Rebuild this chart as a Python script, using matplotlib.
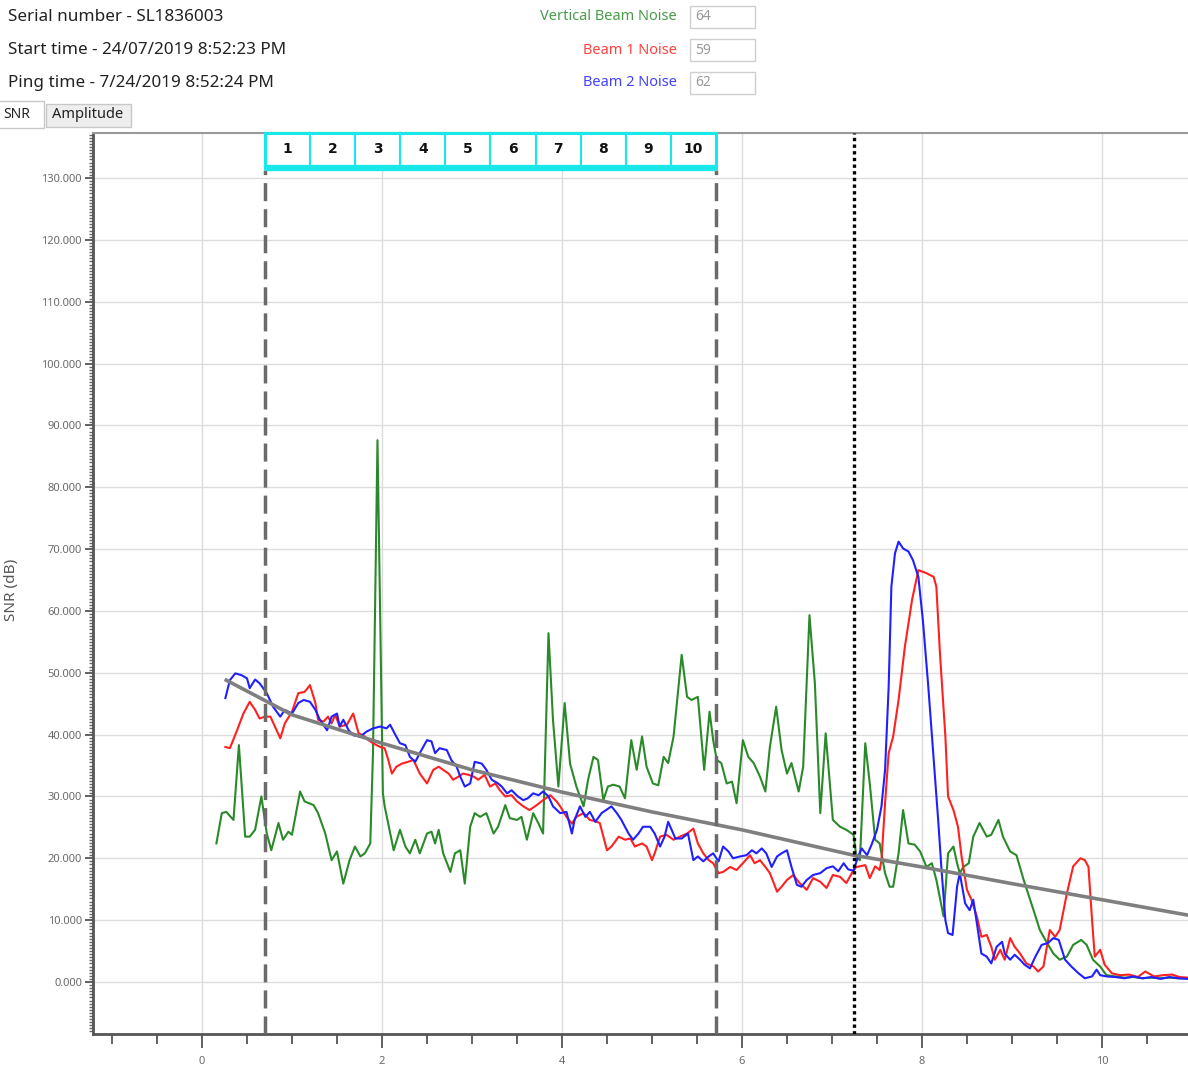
#!/usr/bin/env python

import numpy as np
import matplotlib.pyplot as plt
from matplotlib.patches import Rectangle
from matplotlib.transforms import blended_transform_factory
from matplotlib.ticker import MultipleLocator, FormatStrFormatter

plt.rcParams['font.family'] = ['Noto Sans', 'DejaVu Sans']

## header info
serialText = "Serial number - SL1836003"
startText = "Start time - 24/07/2019 8:52:23 PM"
pingText = "Ping time - 7/24/2019 8:52:24 PM"
noiseLabels = ["Vertical Beam Noise", "Beam 1 Noise", "Beam 2 Noise"]
noiseValues = ["64", "59", "62"]
tabLabels = ["SNR", "Amplitude"]
yLabel = "SNR (dB)"

## cells and markers
cellNames = ["1", "2", "3", "4", "5", "6", "7", "8", "9", "10"]
cellStart = 0.70
cellEnd = 5.71
bottomMark = 7.24

## trend curve
trendX = [0.27, 1.0, 2.0, 3.0, 4.0, 5.0, 6.0, 7.24, 8.0, 9.0, 10.0, 10.96]
trendY = [48.8, 43.2, 38.6, 34.3, 30.7, 27.5, 24.6, 20.5, 18.6, 15.9, 13.3, 10.8]

## vertical beam (green)
vertX = [0.16, 0.22, 0.27, 0.35, 0.41, 0.48, 0.53, 0.59, 0.66, 0.72, 0.77, 0.85, 0.90, 0.96, 1.00,
         1.09, 1.14, 1.24, 1.29, 1.37, 1.44, 1.50, 1.57, 1.64, 1.70, 1.76, 1.81, 1.87, 1.90, 1.95,
         2.01, 2.03, 2.13, 2.20, 2.26, 2.31, 2.37, 2.42, 2.50, 2.55, 2.59, 2.63, 2.68, 2.76, 2.81,
         2.87, 2.92, 2.98, 3.03, 3.09, 3.16, 3.24, 3.29, 3.37, 3.42, 3.50, 3.55, 3.61, 3.68, 3.74,
         3.79, 3.85, 3.90, 3.96, 4.03, 4.09, 4.16, 4.24, 4.29, 4.35, 4.40, 4.46, 4.51, 4.57, 4.64,
         4.70, 4.77, 4.83, 4.89, 4.94, 5.01, 5.07, 5.13, 5.18, 5.24, 5.33, 5.39, 5.44, 5.51, 5.58,
         5.64, 5.68, 5.72, 5.77, 5.83, 5.89, 5.94, 6.01, 6.07, 6.13, 6.20, 6.26, 6.31, 6.38, 6.44,
         6.50, 6.55, 6.63, 6.68, 6.75, 6.81, 6.87, 6.93, 7.01, 7.09, 7.16, 7.24, 7.27, 7.31, 7.37,
         7.42, 7.48, 7.53, 7.59, 7.64, 7.68, 7.74, 7.79, 7.85, 7.92, 7.98, 8.05, 8.11, 8.16, 8.24,
         8.29, 8.35, 8.39, 8.42, 8.46, 8.52, 8.57, 8.64, 8.72, 8.77, 8.85, 8.90, 8.98, 9.05, 9.13,
         9.24, 9.31, 9.39, 9.46, 9.53, 9.61, 9.68, 9.77, 9.83, 9.90, 9.98, 10.05, 10.15, 10.25,
         10.35, 10.45, 10.55, 10.65, 10.75, 10.85, 10.96]
vertY = [22.4, 27.3, 27.5, 26.2, 38.3, 23.5, 23.5, 24.6, 30.0, 24.0, 21.3, 25.7, 23.0, 24.3, 23.8,
         30.8, 29.2, 28.6, 27.3, 24.0, 19.7, 21.1, 15.9, 19.7, 21.9, 20.3, 20.8, 22.4, 37.0, 87.6,
         30.5, 28.4, 21.3, 24.6, 21.9, 20.8, 23.0, 20.8, 24.0, 24.3, 22.4, 24.6, 20.8, 17.8, 20.8,
         21.3, 15.9, 25.1, 27.3, 26.7, 27.3, 24.0, 25.1, 28.6, 26.5, 26.2, 26.7, 23.0, 27.3, 25.6,
         24.0, 56.4, 42.4, 31.6, 45.1, 35.3, 31.6, 28.4, 32.7, 36.4, 35.9, 29.4, 31.6, 31.9, 31.6,
         29.7, 39.1, 34.3, 39.7, 34.8, 32.1, 31.8, 36.4, 35.4, 39.7, 52.9, 46.1, 45.6, 46.1, 34.3,
         43.7, 39.1, 35.9, 35.4, 32.1, 32.4, 28.9, 39.1, 36.4, 35.4, 33.2, 30.8, 38.0, 44.5, 37.5,
         33.7, 35.4, 30.8, 34.8, 59.3, 48.3, 27.3, 40.2, 26.2, 25.1, 24.6, 23.8, 20.3, 19.7, 38.6,
         32.1, 23.0, 22.4, 17.6, 15.4, 15.4, 20.8, 27.8, 22.4, 22.2, 21.1, 18.6, 19.2, 16.5, 10.6,
         20.8, 21.9, 19.2, 17.6, 18.6, 19.2, 23.5, 25.7, 23.5, 23.8, 26.2, 23.5, 21.1, 20.5, 16.5,
         11.6, 8.4, 6.3, 4.6, 3.6, 4.1, 6.0, 6.8, 6.0, 3.6, 2.5, 1.1, 0.9, 0.7,
         0.8, 0.6, 0.7, 0.6, 0.7, 0.6, 0.6]

## beam 1 (red)
beam1X = [0.26, 0.31, 0.39, 0.46, 0.53, 0.59, 0.64, 0.70, 0.76, 0.81, 0.87, 0.92, 1.00, 1.07, 1.14,
          1.20, 1.26, 1.29, 1.35, 1.40, 1.44, 1.48, 1.53, 1.61, 1.68, 1.74, 1.79, 1.85, 1.90, 1.98,
          2.03, 2.07, 2.11, 2.16, 2.22, 2.29, 2.35, 2.42, 2.50, 2.57, 2.63, 2.68, 2.74, 2.79, 2.85,
          2.90, 2.96, 3.02, 3.07, 3.14, 3.20, 3.26, 3.31, 3.37, 3.44, 3.50, 3.57, 3.64, 3.72, 3.79,
          3.87, 3.94, 3.98, 4.05, 4.11, 4.16, 4.24, 4.31, 4.37, 4.42, 4.50, 4.55, 4.63, 4.70, 4.76,
          4.81, 4.89, 4.94, 5.00, 5.03, 5.09, 5.16, 5.24, 5.31, 5.39, 5.46, 5.51, 5.57, 5.63, 5.68,
          5.74, 5.79, 5.87, 5.94, 6.01, 6.09, 6.14, 6.20, 6.26, 6.31, 6.39, 6.44, 6.50, 6.57, 6.64,
          6.72, 6.79, 6.87, 6.94, 7.01, 7.09, 7.16, 7.22, 7.27, 7.31, 7.37, 7.42, 7.48, 7.53, 7.55,
          7.59, 7.63, 7.68, 7.74, 7.81, 7.89, 7.96, 8.05, 8.13, 8.16, 8.20, 8.26, 8.29, 8.35, 8.40,
          8.44, 8.50, 8.55, 8.61, 8.66, 8.72, 8.77, 8.81, 8.87, 8.92, 8.98, 9.03, 9.09, 9.16, 9.24,
          9.29, 9.35, 9.42, 9.48, 9.53, 9.61, 9.68, 9.76, 9.81, 9.85, 9.89, 9.92, 9.98, 10.03,
          10.11, 10.20, 10.30, 10.40, 10.48, 10.58, 10.68, 10.78, 10.86, 10.96]
beam1Y = [38.0, 37.8, 40.7, 43.4, 45.3, 44.0, 42.6, 42.9, 42.9, 41.3, 39.4, 41.8, 43.7, 46.7, 46.9,
          48.0, 45.1, 42.4, 42.1, 42.9, 41.8, 43.2, 41.3, 41.6, 43.4, 40.2, 39.9, 39.1, 38.6, 38.0,
          37.8, 35.9, 33.7, 34.8, 35.3, 35.6, 35.9, 33.7, 32.1, 34.3, 34.8, 34.3, 33.7, 32.7, 33.2,
          33.7, 33.5, 33.2, 32.7, 33.5, 31.6, 32.1, 31.0, 30.0, 30.2, 29.2, 28.4, 27.8, 28.6, 29.4,
          30.2, 29.2, 28.4, 26.7, 25.6, 26.7, 27.3, 26.2, 26.0, 25.7, 21.3, 21.9, 23.5, 23.0, 23.2,
          21.9, 22.4, 21.9, 19.7, 20.8, 23.5, 23.8, 23.0, 23.5, 24.0, 24.8, 22.4, 20.8, 19.7, 19.2,
          17.6, 17.8, 18.6, 18.1, 19.2, 20.5, 19.2, 19.7, 18.6, 17.6, 14.6, 15.4, 16.5, 17.3, 16.0,
          14.9, 16.8, 16.2, 15.2, 17.3, 17.0, 16.0, 17.6, 18.6, 18.7, 18.9, 16.8, 18.7, 18.1, 19.7,
          28.9, 37.0, 39.7, 45.6, 54.2, 61.8, 66.6, 66.1, 65.5, 63.9, 53.1, 39.7, 30.0, 27.8, 25.1,
          20.3, 14.9, 13.3, 10.6, 7.3, 7.6, 5.7, 3.6, 5.2, 3.6, 7.1, 5.7, 4.6, 3.0, 2.5,
          1.7, 2.5, 8.4, 7.3, 8.4, 14.3, 18.7, 20.0, 19.7, 18.6, 10.0, 4.1, 5.2, 2.8,
          1.4, 1.1, 1.2, 0.8, 1.7, 0.9, 1.1, 1.2, 0.8, 0.7]

## beam 2 (blue)
beam2X = [0.26, 0.31, 0.37, 0.44, 0.50, 0.53, 0.59, 0.64, 0.72, 0.79, 0.87, 0.92, 1.00, 1.07, 1.13,
          1.20, 1.26, 1.31, 1.39, 1.44, 1.50, 1.53, 1.57, 1.63, 1.68, 1.76, 1.83, 1.90, 1.98, 2.05,
          2.09, 2.14, 2.20, 2.26, 2.31, 2.37, 2.42, 2.50, 2.55, 2.59, 2.64, 2.72, 2.77, 2.83, 2.87,
          2.92, 2.98, 3.03, 3.11, 3.16, 3.22, 3.29, 3.33, 3.39, 3.44, 3.51, 3.57, 3.62, 3.68, 3.74,
          3.79, 3.85, 3.90, 3.98, 4.05, 4.11, 4.14, 4.20, 4.26, 4.31, 4.37, 4.44, 4.55, 4.61, 4.66,
          4.74, 4.79, 4.85, 4.90, 4.98, 5.03, 5.09, 5.14, 5.18, 5.26, 5.33, 5.40, 5.46, 5.51, 5.57,
          5.63, 5.68, 5.74, 5.79, 5.85, 5.90, 5.98, 6.05, 6.11, 6.16, 6.22, 6.27, 6.33, 6.39, 6.44,
          6.50, 6.55, 6.61, 6.66, 6.72, 6.79, 6.87, 6.94, 7.01, 7.07, 7.13, 7.18, 7.24, 7.29, 7.33,
          7.39, 7.44, 7.50, 7.55, 7.59, 7.63, 7.66, 7.70, 7.74, 7.79, 7.85, 7.90, 7.96, 8.01, 8.07,
          8.13, 8.18, 8.22, 8.26, 8.29, 8.34, 8.39, 8.42, 8.48, 8.53, 8.57, 8.61, 8.66, 8.72, 8.77,
          8.83, 8.89, 8.92, 8.98, 9.03, 9.09, 9.14, 9.20, 9.26, 9.33, 9.40, 9.46, 9.52, 9.59, 9.66,
          9.74, 9.81, 9.89, 9.94, 9.98, 10.05, 10.15, 10.25, 10.35, 10.45, 10.55, 10.65, 10.75,
          10.85, 10.96]
beam2Y = [45.9, 48.8, 49.9, 49.6, 49.1, 47.5, 48.9, 48.3, 46.7, 44.5, 42.9, 44.0, 43.4, 45.1, 45.6,
          45.3, 44.0, 42.4, 40.7, 42.9, 43.4, 41.3, 42.4, 40.7, 39.9, 39.7, 40.5, 41.0, 41.3, 41.0,
          41.6, 40.2, 38.6, 38.3, 36.4, 35.6, 37.0, 39.1, 38.9, 37.0, 37.8, 37.5, 35.9, 34.8, 33.2,
          31.6, 32.1, 35.6, 35.3, 34.3, 32.7, 32.1, 31.6, 30.5, 31.0, 30.0, 29.4, 29.7, 30.5, 30.2,
          30.8, 30.0, 28.4, 27.3, 27.5, 24.0, 26.2, 28.4, 26.7, 27.5, 25.9, 27.3, 28.4, 27.3, 26.2,
          24.0, 23.0, 24.0, 25.1, 25.1, 24.0, 21.9, 23.5, 25.9, 23.2, 23.2, 24.0, 19.7, 20.3, 19.5,
          20.3, 20.8, 19.5, 21.9, 21.1, 20.0, 20.3, 20.5, 21.3, 20.8, 21.6, 20.8, 18.6, 20.3, 20.8,
          21.3, 18.6, 15.7, 15.4, 16.5, 17.3, 17.6, 18.4, 18.7, 17.9, 19.2, 18.2, 18.0, 20.3, 21.6,
          20.5, 22.2, 24.6, 28.4, 34.3, 47.8, 63.9, 69.3, 71.2, 70.1, 69.6, 68.2, 65.5, 58.5, 47.8,
          35.9, 26.2, 17.6, 10.0, 7.9, 7.6, 15.4, 17.6, 12.7, 11.6, 13.3, 9.5, 4.6, 4.1, 3.0,
          5.7, 6.5, 4.6, 3.6, 4.4, 3.6, 2.8, 2.2, 4.1, 6.0, 6.3, 7.1, 6.8, 3.6, 2.5,
          1.4, 0.6, 0.9, 2.0, 1.1, 0.9, 0.8, 0.6, 0.9, 0.6, 0.8, 0.5, 0.8,
          0.6, 0.5]

greenCol = '#2a8a2a'
redCol = '#ff2020'
blueCol = '#2020ff'
cyanCol = '#19e8ea'
textGrey = '#6a6a6a'

W, H = 1188, 1068
fig = plt.figure(figsize=(W/100., H/100.), dpi=100)

def fx(px):
    return px/float(W)

def fy(py):
    return 1.0 - py/float(H)

## header text
fig.text(fx(8), fy(17), serialText, fontsize=12.3, color='#222222', va='center')
fig.text(fx(8), fy(50), startText, fontsize=12.3, color='#222222', va='center')
fig.text(fx(8), fy(83), pingText, fontsize=12.3, color='#222222', va='center')

noiseCols = [greenCol, redCol, blueCol]
for i in range(3):
    yc = 17 + 33*i
    fig.text(fx(677), fy(yc), noiseLabels[i], fontsize=10.5, color=noiseCols[i], ha='right', va='center', alpha=0.85)
    fig.add_artist(Rectangle((fx(690), fy(yc+11)), fx(65), 22./H, transform=fig.transFigure,
                             facecolor='white', edgecolor='#cfcfcf', lw=1))
    fig.text(fx(695), fy(yc), noiseValues[i], fontsize=10, color='#9a9a9a', ha='left', va='center')

## tabs
fig.add_artist(Rectangle((fx(-2), fy(128)), fx(46), 27./H, transform=fig.transFigure,
                         facecolor='white', edgecolor='#c8c8c8', lw=1))
fig.text(fx(3), fy(114), tabLabels[0], fontsize=10, color='#222222', ha='left', va='center')
fig.add_artist(Rectangle((fx(46), fy(127)), fx(85), 23./H, transform=fig.transFigure,
                         facecolor='#eeeeee', edgecolor='#c8c8c8', lw=1))
fig.text(fx(88), fy(115), tabLabels[1], fontsize=10.5, color='#222222', ha='center', va='center')

## axes
ax = fig.add_axes([fx(93), 34./H, 1 - fx(93), 901./H])
ax.set_xlim(-1.211, 10.956)
ax.set_ylim(-8.41, 137.27)

ax.xaxis.set_major_locator(MultipleLocator(2))
ax.xaxis.set_minor_locator(MultipleLocator(0.5))
ax.yaxis.set_major_locator(MultipleLocator(10))
ax.yaxis.set_minor_locator(MultipleLocator(0.5))
ax.yaxis.set_major_formatter(FormatStrFormatter('%.3f'))
ax.set_yticks(np.arange(0, 131, 10))
ax.set_xticks(np.arange(0, 11, 2))

ax.tick_params(axis='both', which='major', colors='#555555', labelcolor=textGrey, labelsize=8, width=1.3)
ax.tick_params(axis='x', which='major', length=10, pad=6)
ax.tick_params(axis='x', which='minor', length=7, width=1.3, colors='#555555')
ax.tick_params(axis='y', which='major', length=6, pad=2)
ax.tick_params(axis='y', which='minor', length=3, width=1.0, colors='#666666')

for s in ['left', 'bottom']:
    ax.spines[s].set_color('#555555')
    ax.spines[s].set_linewidth(2)
ax.spines['right'].set_visible(False)
ax.spines['top'].set_color('#999999')
ax.spines['top'].set_linewidth(1.5)

ax.grid(True, which='major', color='#dcdcdc', lw=1.0)
ax.set_axisbelow(True)

fig.text(fx(11), fy(590), yLabel, fontsize=11, color='#555555', rotation=90, ha='center', va='center')

## series
ax.plot(vertX, vertY, color=greenCol, lw=1.5, zorder=3)
ax.plot(beam1X, beam1Y, color=redCol, lw=1.5, zorder=3)
ax.plot(beam2X, beam2Y, color=blueCol, lw=1.5, zorder=3)
ax.plot(trendX, trendY, color='#7f7f7f', lw=2.6, zorder=4)

## cell markers
trans = blended_transform_factory(ax.transData, ax.transAxes)
cellTop = 1.0
cellBot = 1 - 35./901
ax.axvline(cellStart, ymin=0, ymax=cellBot - 0.002, color='#6a6a6a', lw=2.5, ls=(0, (5.2, 2.3)), zorder=5)
ax.axvline(cellEnd, ymin=0, ymax=cellBot - 0.002, color='#6a6a6a', lw=2.5, ls=(0, (5.2, 2.3)), zorder=5)
ax.axvline(bottomMark, ymin=0, ymax=1, color='black', lw=2.4, ls=(0, (1, 1)), zorder=5)

cellW = (cellEnd - cellStart)/len(cellNames)
for i, nm in enumerate(cellNames):
    x0 = cellStart + i*cellW
    ax.add_patch(Rectangle((x0, cellBot), cellW, cellTop - cellBot, transform=trans,
                           facecolor='white', edgecolor=cyanCol, lw=1.5, zorder=6, clip_on=False))
    ax.text(x0 + cellW/2., (cellTop + cellBot)/2. + 0.002, nm, transform=trans, ha='center', va='center',
            fontsize=10, fontweight='bold', color='#111111', family='DejaVu Sans', zorder=7)
ax.add_patch(Rectangle((cellStart, cellBot), cellEnd - cellStart, cellTop - cellBot, transform=trans,
                       facecolor='none', edgecolor=cyanCol, lw=2.2, zorder=7, clip_on=False))
ax.plot([cellStart, cellEnd], [cellBot, cellBot], transform=trans, color=cyanCol, lw=4.5,
        solid_capstyle='butt', zorder=8, clip_on=False)

fig.savefig('out.png', dpi=100)
